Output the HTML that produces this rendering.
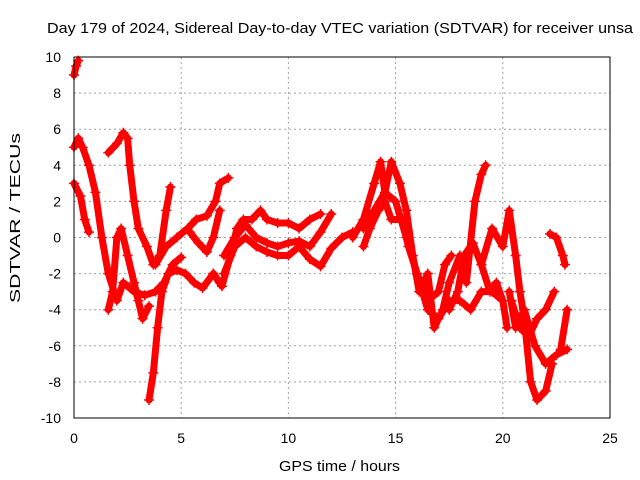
<!DOCTYPE html>
<html><head><meta charset="utf-8"><style>
body{margin:0;background:#fff}
svg{display:block;font-family:"Liberation Sans",sans-serif}
</style></head><body>
<svg id="c" width="640" height="480">
<text x="47" y="33" font-size="15" textLength="586" lengthAdjust="spacingAndGlyphs">Day 179 of 2024, Sidereal Day-to-day VTEC variation (SDTVAR) for receiver unsa</text>
<text x="279" y="471" font-size="15" textLength="121" lengthAdjust="spacingAndGlyphs">GPS time / hours</text>
<text transform="translate(20,303) rotate(-90)" font-size="14.5" textLength="170" lengthAdjust="spacingAndGlyphs">SDTVAR / TECUs</text>
<g id="grid"></g><g id="data"></g>
<rect x="74" y="57" width="536" height="361" fill="none" stroke="#000" stroke-width="1"/>
</svg>
<script>
const xTicks=[0,5,10,15,20,25];
const yTicks=[-10,-8,-6,-4,-2,0,2,4,6,8,10];
const s1=[[0,3],[0.3,2.3],[0.5,1],[0.7,0.3]];
const s2=[[0,5],[0.2,5.5],[0.4,5],[0.7,4],[1,2.5],[1.3,0],[1.6,-2],[2,-3.5],[2.3,-2.5],[2.8,-3],[3.3,-3.2],[3.8,-3],[4.2,-2.5],[4.6,-1.5],[5,-1.1]];
const s3=[[1.6,-4],[1.8,-3],[2,0],[2.2,0.5],[2.5,-1],[2.8,-2.5],[3,-3.5],[3.2,-4.5],[3.5,-3.8]];
const s4=[[1.6,4.7],[2,5.2],[2.3,5.8],[2.5,5.5],[2.6,4],[2.8,2],[3,0.5],[3.4,-0.5],[3.7,-1.5],[4,-1],[4.3,1.5],[4.5,2.8]];
const s5=[[3.5,-9],[3.7,-7.5],[3.9,-5],[4.1,-3],[4.4,-2],[4.8,-1.8],[5.2,-2],[5.6,-2.5],[6,-2.8],[6.5,-2],[6.8,-2.5]];
const s6=[[3.8,-1.5],[4.3,-0.5],[4.8,0],[5.3,0.5],[5.7,1],[6.2,1.2],[6.6,2],[6.8,3],[7.2,3.3]];
const s7=[[5.4,0.3],[5.8,-0.3],[6.2,-0.8],[6.5,0],[6.8,1.5]];
const s8=[[6.5,-2],[6.9,-2.7],[7.3,-1],[7.6,0.5],[7.9,1],[8.3,1],[8.7,1.5],[9,1],[9.5,0.8],[10,0.8],[10.5,0.5],[11,1],[11.5,1.3]];
const s9=[[7,-1],[7.5,0],[8,0.7],[8.5,0],[9,-0.3],[9.5,-0.5],[10,-0.3],[10.5,-0.2],[11,-0.5],[11.5,0.3],[12,1.3]];
const s10=[[7,-2],[7.5,-0.5],[8,0],[8.5,-0.5],[9,-0.8],[9.5,-1],[10,-1],[10.5,-0.5],[11,-1.2],[11.5,-1.6],[12,-0.6],[12.5,0],[13,0.3]];
const s11=[[13,0],[13.5,1],[14,3],[14.3,4.2],[14.5,2.5],[14.8,4.2],[15.2,3],[15.5,1.5],[15.8,-1],[16.1,-3],[16.5,-2],[16.8,-5],[17.2,-4],[17.5,-2.5],[18,-1],[18.3,-2.5],[18.7,2],[19,3.5],[19.2,4]];
const s12=[[13.5,0.5],[14,1.5],[14.5,2.5],[15,2],[15.5,0],[16,-2],[16.5,-4],[17,-4.5],[17.5,-3.5],[18,-3.5],[18.5,-4],[19,-3],[19.5,-3],[20,-3.5]];
const s13=[[19,-1.5],[19.5,0.5],[20,-0.5],[20.3,1.5],[20.6,-1],[20.8,-3],[21,-4.5],[21.3,-8],[21.6,-9],[22,-8.5],[22.3,-7]];
const s14=[[20.3,-3],[20.6,-5],[21,-4],[21.5,-6],[22,-7],[22.5,-6.5],[23,-6.2]];
const s15=[[22.2,0.2],[22.5,0],[22.8,-1],[22.9,-1.5]];
const s16=[[22.7,-6.2],[23,-4]];
const s17=[[0,9],[0.1,9.5],[0.2,9.8]];
const s18=[[13.5,-0.5],[13.8,0.5],[14.2,1.5],[14.5,2],[14.8,1],[15.3,1],[15.6,-0.5],[16,-2],[16.5,-3.5],[17,-3],[17.3,-1.5],[17.6,-1]];
const s19=[[17.5,-4],[17.9,-3],[18.2,-1],[18.6,-0.3],[19,-1.5],[19.4,-3],[19.7,-2.5],[20,-3.5],[20.2,-5]];
const s20=[[20.4,-3.5],[20.8,-5],[21.2,-5.5],[21.6,-4.5],[22,-4],[22.4,-3]];
const series=[s1,s2,s3,s4,s5,s6,s7,s8,s9,s10,s11,s12,s13,s14,s15,s16,s17,s18,s19,s20];
const X=v=>74+v*(536/25), Y=v=>237.5-v*(361/20);
const NS="http://www.w3.org/2000/svg";
const g=document.getElementById('grid'), d=document.getElementById('data');
function mk(tag,at,p){const e=document.createElementNS(NS,tag);for(const k in at)e.setAttribute(k,at[k]);p.appendChild(e);return e;}
xTicks.forEach(t=>{
 const l=mk('line',{x1:X(t),x2:X(t),y1:57,y2:418,stroke:'#a0a0a0','stroke-dasharray':'2,3'},g);
 
 
 const tx=mk('text',{x:X(t),y:443,'font-size':14,'text-anchor':'middle'},g);tx.textContent=t;
 
 
});
yTicks.forEach(t=>{
 const l=mk('line',{x1:74,x2:610,y1:Y(t),y2:Y(t),stroke:'#a0a0a0','stroke-dasharray':'2,3'},g);
 
 
 const tx=mk('text',{x:61,y:Y(t)+5,'font-size':14,'text-anchor':'end'},g);tx.textContent=t;
 
 
});
series.forEach(s=>{
 const p=mk('polyline',{points:s.map(q=>X(q[0])+','+Y(q[1])).join(' '),fill:'none',stroke:'#f00','stroke-width':7,'stroke-linejoin':'round','stroke-linecap':'round'},d);
 
 
 s.forEach(q=>{
  const m=mk('path',{d:`M${X(q[0])-5},${Y(q[1])}h10M${X(q[0])},${Y(q[1])-5}v10`,stroke:'#f00','stroke-width':1.5},d);
  
  
 });
});
</script>
</body></html>
